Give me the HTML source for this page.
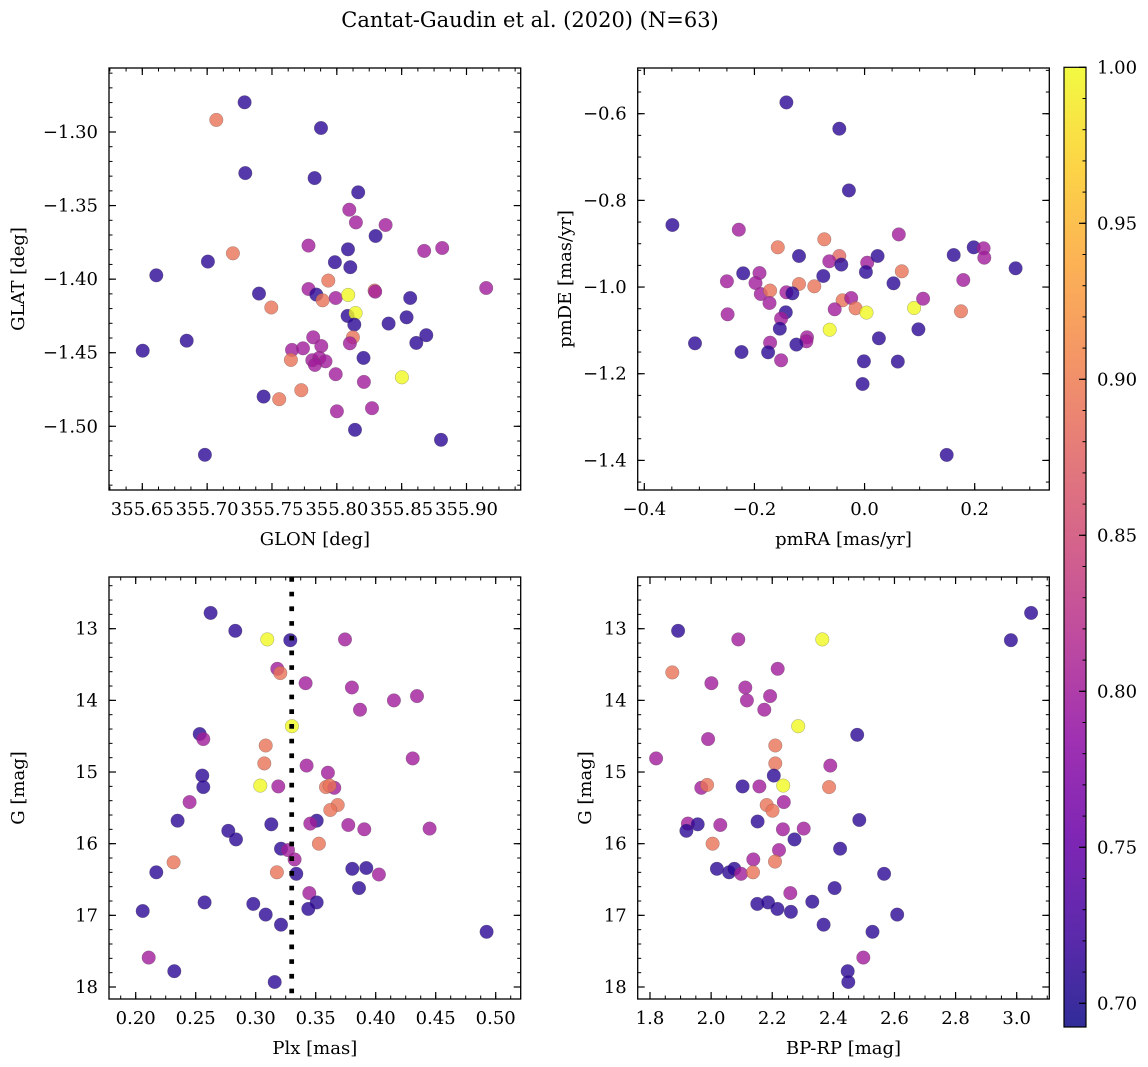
<!DOCTYPE html>
<html><head><meta charset="utf-8">
<style>
html,body{margin:0;padding:0;background:#fff;}
svg{display:block;font-family:"DejaVu Serif","Liberation Serif",serif;}
</style></head>
<body>
<svg id="fig" width="1148" height="1067" viewBox="0 0 1148 1067" xmlns="http://www.w3.org/2000/svg">
<text x="530" y="27" font-size="21" text-anchor="middle" fill="#000">Cantat-Gaudin et al. (2020) (N=63)</text>
<defs>
<linearGradient id="plasma" x1="0" y1="1" x2="0" y2="0">
<stop offset="0" stop-color="#0d0887"/><stop offset="0.1" stop-color="#41049d"/><stop offset="0.2" stop-color="#6a00a8"/><stop offset="0.3" stop-color="#8f0da4"/><stop offset="0.4" stop-color="#b12a90"/><stop offset="0.5" stop-color="#cc4778"/><stop offset="0.6" stop-color="#e16462"/><stop offset="0.7" stop-color="#f2844b"/><stop offset="0.8" stop-color="#fca636"/><stop offset="0.9" stop-color="#fcce25"/><stop offset="1" stop-color="#f0f921"/>
</linearGradient>
</defs>
</svg>
<script>
// ---- Panel 1: GLON / GLAT ----
const p1Glon=[355.7289,355.7071,355.7878,355.7294,355.7829,355.8165,355.8096,355.8147,355.8376,355.8299,355.7782,355.8086,355.8674,355.8813,355.7199,355.7006,355.7985,355.8104,355.6608,355.7934,355.9152,355.7400,355.7782,355.7842,355.7890,355.7991,355.8088,355.8291,355.8296,355.8566,355.7495,355.8083,355.8145,355.8135,355.8399,355.8538,355.8690,355.8613,355.8124,355.8101,355.6842,355.6503,355.7818,355.7880,355.7654,355.7739,355.7646,355.7811,355.7865,355.7913,355.7831,355.8206,355.7991,355.8209,355.8502,355.7726,355.7435,355.7556,355.8001,355.8271,355.8140,355.8803,355.6983];
const p1Glat=[-1.2798,-1.2918,-1.2973,-1.3279,-1.3313,-1.3410,-1.3528,-1.3614,-1.3632,-1.3707,-1.3772,-1.3797,-1.3808,-1.3788,-1.3824,-1.3881,-1.3885,-1.3919,-1.3974,-1.4010,-1.4060,-1.4098,-1.4067,-1.4105,-1.4144,-1.4128,-1.4107,-1.4078,-1.4085,-1.4128,-1.4193,-1.4250,-1.4230,-1.4309,-1.4302,-1.4259,-1.4381,-1.4433,-1.4395,-1.4436,-1.4418,-1.4486,-1.4395,-1.4454,-1.4481,-1.4470,-1.4549,-1.4551,-1.4535,-1.4558,-1.4583,-1.4535,-1.4646,-1.4698,-1.4667,-1.4755,-1.4798,-1.4816,-1.4898,-1.4877,-1.5024,-1.5092,-1.5194];
const p1Prob=[0.71,0.89,0.71,0.71,0.71,0.71,0.80,0.80,0.80,0.71,0.80,0.71,0.80,0.80,0.89,0.71,0.71,0.71,0.71,0.89,0.80,0.71,0.80,0.71,0.89,0.80,1.00,0.88,0.80,0.71,0.89,0.71,1.00,0.71,0.71,0.71,0.71,0.71,0.89,0.80,0.71,0.71,0.80,0.80,0.80,0.80,0.89,0.80,0.80,0.80,0.80,0.71,0.80,0.80,1.00,0.89,0.71,0.89,0.80,0.80,0.71,0.71,0.71];
const p1XTicks=[355.65,355.70,355.75,355.80,355.85,355.90];
const p1XTickLabels=["355.65","355.70","355.75","355.80","355.85","355.90"];
const p1YTicks=[-1.30,-1.35,-1.40,-1.45,-1.50];
const p1YTickLabels=["−1.30","−1.35","−1.40","−1.45","−1.50"];

// ---- Panel 2: pmRA / pmDE ----
const p2PmRA=[-0.1419,-0.0459,-0.0284,-0.3490,-0.2283,-0.0731,0.0622,-0.1576,-0.1190,-0.0459,-0.0640,-0.0423,0.0048,0.0236,0.1618,0.1981,0.2162,0.2174,0.2742,0.0676,0.0024,-0.2204,-0.1908,-0.2500,-0.1981,0.0525,0.1793,-0.0749,-0.0912,-0.1190,-0.1884,-0.1715,-0.1419,-0.1310,-0.1727,-0.0399,-0.0242,-0.0163,0.0036,0.0900,0.1063,0.1751,-0.0543,-0.2488,-0.1431,-0.1516,-0.1540,-0.0634,0.0978,0.0260,-0.3080,-0.1045,-0.1057,-0.1238,-0.1715,-0.2234,-0.1751,-0.1516,-0.0012,0.0604,-0.0036,0.1492];
const p2PmDE=[-0.5739,-0.6346,-0.7769,-0.8568,-0.8676,-0.8899,-0.8784,-0.9083,-0.9283,-0.9283,-0.9406,-0.9483,-0.9437,-0.9283,-0.9260,-0.9083,-0.9106,-0.9322,-0.9568,-0.9637,-0.9652,-0.9683,-0.9675,-0.9868,-0.9906,-0.9914,-0.9837,-0.9745,-0.9983,-0.9929,-1.0160,-1.0083,-1.0121,-1.0145,-1.0368,-1.0306,-1.0252,-1.0490,-1.0590,-1.0483,-1.0268,-1.0560,-1.0514,-1.0629,-1.0583,-1.0729,-1.0960,-1.0983,-1.0975,-1.1183,-1.1298,-1.1160,-1.1252,-1.1329,-1.1283,-1.1498,-1.1506,-1.1690,-1.1713,-1.1721,-1.2236,-1.3874];
const p2Prob=[0.71,0.71,0.71,0.71,0.80,0.89,0.80,0.89,0.71,0.88,0.80,0.71,0.80,0.71,0.71,0.71,0.80,0.80,0.71,0.89,0.71,0.71,0.80,0.80,0.80,0.71,0.80,0.71,0.89,0.89,0.80,0.89,0.80,0.71,0.80,0.89,0.80,0.89,1.00,1.00,0.80,0.89,0.80,0.80,0.71,0.80,0.71,1.00,0.71,0.71,0.71,0.80,0.80,0.71,0.80,0.71,0.71,0.80,0.71,0.71,0.71,0.71];
const p2XTicks=[-0.4,-0.2,0.0,0.2];
const p2XTickLabels=["−0.4","−0.2","0.0","0.2"];
const p2YTicks=[-0.6,-0.8,-1.0,-1.2,-1.4];
const p2YTickLabels=["−0.6","−0.8","−1.0","−1.2","−1.4"];

// ---- Panel 3: Plx / G ----
const p3Plx=[0.2624,0.2830,0.3097,0.3288,0.3744,0.3180,0.3205,0.3416,0.3802,0.4152,0.4344,0.3869,0.3302,0.2533,0.2563,0.3083,0.3072,0.4308,0.3424,0.3602,0.2555,0.2563,0.3038,0.3188,0.3586,0.3655,0.3616,0.2449,0.3683,0.3622,0.2349,0.3508,0.3455,0.3130,0.3772,0.3905,0.4449,0.2772,0.2836,0.3527,0.3211,0.3269,0.3324,0.2316,0.2172,0.3177,0.3338,0.3805,0.3922,0.4027,0.3861,0.3447,0.3508,0.2574,0.2980,0.3438,0.2058,0.3083,0.3211,0.4924,0.2108,0.2322,0.3158];
const p3G=[12.78,13.03,13.15,13.16,13.15,13.56,13.62,13.76,13.82,14.00,13.94,14.13,14.36,14.47,14.54,14.63,14.88,14.81,14.91,15.01,15.05,15.21,15.19,15.20,15.21,15.22,15.19,15.42,15.46,15.53,15.68,15.68,15.72,15.73,15.74,15.80,15.79,15.82,15.94,16.00,16.07,16.09,16.22,16.26,16.40,16.40,16.42,16.35,16.34,16.43,16.62,16.69,16.82,16.82,16.84,16.91,16.94,16.99,17.13,17.23,17.59,17.78,17.93];
const p3Prob=[0.71,0.71,1.00,0.71,0.80,0.80,0.89,0.80,0.80,0.80,0.80,0.80,1.00,0.71,0.80,0.89,0.89,0.80,0.80,0.80,0.71,0.71,1.00,0.80,0.89,0.80,0.89,0.80,0.89,0.89,0.71,0.71,0.80,0.71,0.80,0.80,0.80,0.71,0.71,0.89,0.71,0.80,0.80,0.89,0.71,0.89,0.71,0.71,0.71,0.80,0.71,0.80,0.71,0.71,0.71,0.71,0.71,0.71,0.71,0.71,0.80,0.71,0.71];
const p3XTicks=[0.20,0.25,0.30,0.35,0.40,0.45,0.50];
const p3XTickLabels=["0.20","0.25","0.30","0.35","0.40","0.45","0.50"];
const p3YTicks=[13,14,15,16,17,18];
const p3YTickLabels=["13","14","15","16","17","18"];
const p3CutPlx=[0.33];

// ---- Panel 4: BP-RP / G ----
const p4BpRp=[3.047,1.892,2.089,2.364,2.981,1.873,2.218,2.001,2.112,2.117,2.193,2.174,2.285,2.478,1.990,2.210,1.820,2.210,2.390,2.205,1.968,1.987,2.103,2.158,2.236,2.386,2.182,2.201,2.238,1.924,1.956,1.919,2.030,2.152,2.235,2.303,2.485,2.273,2.005,2.422,2.222,2.138,2.209,2.019,2.059,2.076,2.098,2.137,2.566,2.404,2.259,2.151,2.186,2.331,2.217,2.261,2.609,2.368,2.528,2.498,2.447,2.449];
const p4G=[12.78,13.03,13.15,13.15,13.16,13.61,13.56,13.76,13.82,14.00,13.94,14.13,14.36,14.48,14.54,14.63,14.81,14.88,14.91,15.05,15.22,15.18,15.20,15.20,15.19,15.21,15.46,15.54,15.42,15.72,15.73,15.82,15.74,15.69,15.80,15.79,15.67,15.94,16.00,16.07,16.09,16.22,16.25,16.35,16.40,16.35,16.42,16.40,16.42,16.62,16.69,16.84,16.82,16.81,16.91,16.95,16.99,17.13,17.23,17.59,17.78,17.93];
const p4Prob=[0.71,0.71,0.80,1.00,0.71,0.89,0.80,0.80,0.80,0.80,0.80,0.80,1.00,0.71,0.80,0.89,0.80,0.89,0.80,0.71,0.80,0.89,0.71,0.80,1.00,0.89,0.89,0.89,0.80,0.80,0.71,0.71,0.80,0.71,0.80,0.80,0.71,0.71,0.89,0.71,0.80,0.80,0.89,0.71,0.71,0.71,0.80,0.89,0.71,0.71,0.80,0.71,0.71,0.71,0.71,0.71,0.71,0.71,0.71,0.80,0.71,0.71];
const p4XTicks=[1.8,2.0,2.2,2.4,2.6,2.8,3.0];
const p4XTickLabels=["1.8","2.0","2.2","2.4","2.6","2.8","3.0"];
const p4YTicks=[13,14,15,16,17,18];
const p4YTickLabels=["13","14","15","16","17","18"];

// ---- Colorbar ----
const cbTicks=[1.00,0.95,0.90,0.85,0.80,0.75,0.70];
const cbTickLabels=["1.00","0.95","0.90","0.85","0.80","0.75","0.70"];
const cbMin=0.6924, cbMax=1.0;

const NS="http://www.w3.org/2000/svg";
const svg=document.getElementById('fig');
function mk(tag,attrs,parent){const e=document.createElementNS(NS,tag);for(const k in attrs)e.setAttribute(k,attrs[k]);(parent||svg).appendChild(e);return e;}

const stops=[[0,13,8,135],[0.1,65,4,157],[0.2,106,0,168],[0.3,143,13,164],[0.4,177,42,144],[0.5,204,71,120],[0.6,225,100,98],[0.7,242,132,75],[0.8,252,166,54],[0.9,252,206,37],[1,240,249,33]];
function plasma(v){let t=(v-cbMin)/(cbMax-cbMin);t=Math.max(0,Math.min(1,t));
 for(let i=0;i<stops.length-1;i++){const a=stops[i],b=stops[i+1];if(t<=b[0]){const f=(t-a[0])/(b[0]-a[0]);return `rgb(${Math.round(a[1]+f*(b[1]-a[1]))},${Math.round(a[2]+f*(b[2]-a[2]))},${Math.round(a[3]+f*(b[3]-a[3]))})`;}}
 return 'rgb(240,249,33)';}

function linScale(d0,d1,r0,r1){return v=>r0+(v-d0)/(d1-d0)*(r1-r0);}

function panel(cfg){
 const g=mk('g',{});
 
 
 const L=cfg.box[0],T=cfg.box[1],R=cfg.box[2],B=cfg.box[3];
 const sx=linScale(cfg.xref[0],cfg.xref[1],cfg.xref[2],cfg.xref[3]);
 const sy=linScale(cfg.yref[0],cfg.yref[1],cfg.yref[2],cfg.yref[3]);
 const clipId='clip-'+cfg.name;
 const cp=mk('clipPath',{id:clipId},g);mk('rect',{x:L,y:T,width:R-L,height:B-T},cp);
 const pts=mk('g',{'clip-path':`url(#${clipId})`},g);
 
 
 for(let i=0;i<cfg.xs.length;i++){
  const c=mk('circle',{cx:sx(cfg.xs[i]).toFixed(1),cy:sy(cfg.ys[i]).toFixed(1),r:6.8,fill:plasma(cfg.cs[i]),'fill-opacity':0.8,stroke:'#555','stroke-opacity':0.5,'stroke-width':0.5},pts);
  
  
 }
 if(cfg.vline){for(const v of cfg.vline){const ln=mk('line',{x1:sx(v),x2:sx(v),y1:T,y2:B,stroke:'#000','stroke-width':4.7,'stroke-dasharray':'4.7 10'},g);
  
  }}
 const fr=mk('rect',{x:L,y:T,width:R-L,height:B-T,fill:'none',stroke:'#000','stroke-width':1.3},g);
 
 
 function range(step,a,b){const out=[];const s=Math.ceil(Math.min(a,b)/step-1e-6),e=Math.floor(Math.max(a,b)/step+1e-6);for(let k=s;k<=e;k++)out.push(k*step);return out;}
 const invx=v=>cfg.xref[0]+(v-cfg.xref[2])/(cfg.xref[3]-cfg.xref[2])*(cfg.xref[1]-cfg.xref[0]);
 const invy=v=>cfg.yref[0]+(v-cfg.yref[2])/(cfg.yref[3]-cfg.yref[2])*(cfg.yref[1]-cfg.yref[0]);
 for(const v of range(cfg.xminor,invx(L),invx(R))){const p=sx(v);mk('line',{x1:p,x2:p,y1:B,y2:B-3.5,stroke:'#000','stroke-width':1},g);mk('line',{x1:p,x2:p,y1:T,y2:T+3.5,stroke:'#000','stroke-width':1},g);}
 for(const v of range(cfg.yminor,invy(T),invy(B))){const p=sy(v);mk('line',{x1:L,x2:L+3.5,y1:p,y2:p,stroke:'#000','stroke-width':1},g);mk('line',{x1:R,x2:R-3.5,y1:p,y2:p,stroke:'#000','stroke-width':1},g);}
 cfg.xt.forEach((v,i)=>{const p=sx(v);mk('line',{x1:p,x2:p,y1:B,y2:B-7,stroke:'#000','stroke-width':1.2},g);mk('line',{x1:p,x2:p,y1:T,y2:T+7,stroke:'#000','stroke-width':1.2},g);
  const t=mk('text',{x:p,y:B+25,'font-size':18,'text-anchor':'middle'},g);t.textContent=cfg.xtl[i];
  
  });
 cfg.yt.forEach((v,i)=>{const p=sy(v);mk('line',{x1:L,x2:L+7,y1:p,y2:p,stroke:'#000','stroke-width':1.2},g);mk('line',{x1:R,x2:R-7,y1:p,y2:p,stroke:'#000','stroke-width':1.2},g);
  const t=mk('text',{x:L-11,y:p+6,'font-size':18,'text-anchor':'end'},g);t.textContent=cfg.ytl[i];
  
  });
 const xl=mk('text',{x:(L+R)/2,y:B+55,'font-size':18,'text-anchor':'middle'},g);xl.textContent=cfg.xlabel;
 
 
 const yx=cfg.ylabelX, yy=(T+B)/2;
 const yl=mk('text',{x:yx,y:yy,'font-size':18,'text-anchor':'middle',transform:`rotate(-90 ${yx} ${yy})`},g);yl.textContent=cfg.ylabel;
 
 
}

panel({name:'glon-glat-panel',box:[109,68,520.7,490],xref:[355.65,355.90,142.3,466.5],yref:[-1.30,-1.50,132,426.3],xs:p1Glon,ys:p1Glat,cs:p1Prob,xt:p1XTicks,xtl:p1XTickLabels,yt:p1YTicks,ytl:p1YTickLabels,xminor:0.0125,yminor:0.01,xlabel:'GLON [deg]',ylabel:'GLAT [deg]',ylabelX:24});
panel({name:'proper-motion-panel',box:[637.7,68,1049.3,490],xref:[-0.4,0.2,644.3,974.7],yref:[-0.6,-1.4,113.7,460.4],xs:p2PmRA,ys:p2PmDE,cs:p2Prob,xt:p2XTicks,xtl:p2XTickLabels,yt:p2YTicks,ytl:p2YTickLabels,xminor:0.05,yminor:0.05,xlabel:'pmRA [mas/yr]',ylabel:'pmDE [mas/yr]',ylabelX:571});
panel({name:'parallax-mag-panel',box:[109,577,520.7,999],xref:[0.20,0.50,135.7,495.7],yref:[13,18,628.7,987],xs:p3Plx,ys:p3G,cs:p3Prob,xt:p3XTicks,xtl:p3XTickLabels,yt:p3YTicks,ytl:p3YTickLabels,xminor:0.0125,yminor:0.2,xlabel:'Plx [mas]',ylabel:'G [mag]',ylabelX:24,vline:p3CutPlx});
panel({name:'cmd-panel',box:[637.7,577,1049.3,999],xref:[1.8,3.0,650,1016.7],yref:[13,18,628.7,987],xs:p4BpRp,ys:p4G,cs:p4Prob,xt:p4XTicks,xtl:p4XTickLabels,yt:p4YTicks,ytl:p4YTickLabels,xminor:0.05,yminor:0.2,xlabel:'BP-RP [mag]',ylabel:'G [mag]',ylabelX:591});

// colorbar
(function(){
 const g=mk('g',{});
 
 
 const L=1064,R=1086,T=67.3,B=1027;
 const sy=linScale(cbMax,cbMin,T,B);
 const r=mk('rect',{x:L,y:T,width:R-L,height:B-T,fill:'url(#plasma)','fill-opacity':0.85,stroke:'#000','stroke-width':1.2},g);
 
 
 for(let k=Math.ceil(cbMin*100);k<=100;k++){const p=sy(k/100);mk('line',{x1:R,x2:R-3.5,y1:p,y2:p,stroke:'#000','stroke-width':1},g);}
 cbTicks.forEach((v,i)=>{const p=sy(v);mk('line',{x1:R,x2:R-7,y1:p,y2:p,stroke:'#000','stroke-width':1.2},g);
  const t=mk('text',{x:R+11,y:p+6,'font-size':18},g);t.textContent=cbTickLabels[i];
  
  });
})();
</script>
</body></html>
